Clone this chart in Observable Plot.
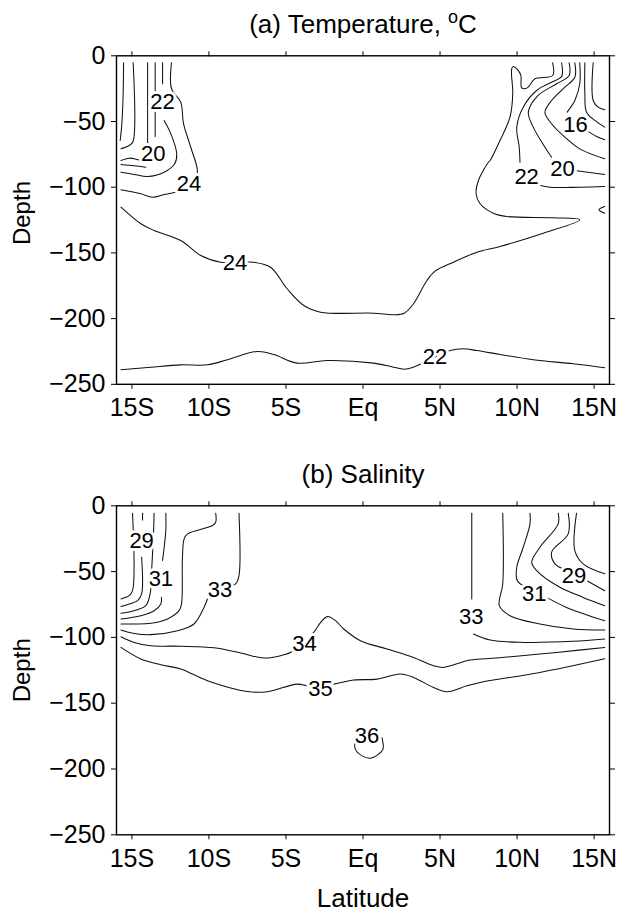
<!DOCTYPE html>
<html><head><meta charset="utf-8">
<script src="https://cdn.jsdelivr.net/npm/d3@7"></script>
<script src="https://cdn.jsdelivr.net/npm/@observablehq/plot@0.6"></script>
<style>
body{margin:0;background:#fff}
svg{display:block}
</style>
</head><body><div id="chart"></div>
<script>
// ---------- axes ----------
const latTicks = [-15, -10, -5, 0, 5, 10, 15];
const latLabels = ["15S", "10S", "5S", "Eq", "5N", "10N", "15N"];
const depthTicks = [0, -50, -100, -150, -200, -250];
const depthLabels = ["0", "\u221250", "\u2212100", "\u2212150", "\u2212200", "\u2212250"];
const titles = ["(a) Temperature, \u00b0C", "(b) Salinity"];

// ---------- (a) temperature contour lines: [lat, depth] ----------
const t14w = [[-15.54,-5.3],[-15.58,-34],[-15.67,-54.3],[-15.76,-64.5]];
const t16w = [[-14.92,-5.3],[-14.92,-65],[-15.18,-68.3],[-15.71,-70.8]];
const t18wTop = [[-13.98,-5.3],[-13.98,-68.3]];
const t18wLow = [[-14.24,-80.2],[-14.74,-78.7],[-15.18,-77.9],[-15.71,-79.7]];
const t19w = [[-15.71,-82.7],[-14.85,-83.7],[-14.09,-84.8]];
const t20w = [[-13.49,-5.3],[-13.49,-61.4]];
const t22wTop = [[-13.01,-5.3],[-13.01,-21.3]];
const t22wLow = [[-12.91,-49.2],[-12.47,-59.4],[-12.09,-74.6],[-12.22,-82.2],[-12.91,-88.6],[-13.98,-91.9],[-14.85,-90.3],[-15.71,-88.6]];
const t24w = [[-12.43,-5.3],[-12.43,-25.1],[-11.83,-35.3],[-11.65,-51.7],[-11.18,-69.6],[-10.75,-87.3],[-10.9,-97],[-11.6,-102.5],[-12.15,-103.8],[-12.91,-105.6],[-13.66,-107.6],[-14.42,-105],[-15.71,-102]];
const t24main = [[-15.71,-115.2],[-14.42,-127.8],[-13.56,-132.9],[-11.83,-140.6],[-10.53,-152.0],[-9.24,-157.1],[-7.08,-157.1],[-6.0,-160.9],[-4.92,-177.3],[-3.84,-190.0],[-2.75,-195.1],[0.69,-195.9],[1.98,-197.1],[2.68,-195.9],[3.28,-188.7],[4.15,-171.0],[4.68,-163.9],[5.87,-157.1],[7.39,-149.5],[8.89,-145.1],[11.70,-135.0],[14.07,-124.8],[12.35,-123.3],[9.33,-122.3],[8.46,-119.8],[7.60,-112.6],[7.34,-105.0],[7.49,-94.9],[8.14,-81.0],[8.25,-79.7],[8.89,-64.5],[9.54,-46.7],[9.72,-28.9],[9.65,-9.9],[9.76,-8.1],[10.23,-14.2],[10.30,-24.4],[10.66,-24.4],[11.16,-17.5],[12.31,-15.0],[12.31,-5.3]];
const t22deep = [[-15.71,-239.0],[-13.77,-237.0],[-11.83,-235.2],[-10.10,-235.2],[-8.80,-231.3],[-6.86,-225.0],[-5.79,-227.3],[-4.27,-233.9],[-2.33,-231.9],[0.69,-233.9],[1.98,-237.0],[2.68,-238.5],[3.39,-236.4],[4.04,-233.2],[5.66,-224.3],[6.52,-223.0],[7.39,-224.3],[8.89,-227.3],[11.05,-231.3],[13.64,-234.4],[15.69,-237.4]];
const t22eTop = [[12.89,-5.3],[12.89,-15.8],[12.24,-20.1],[11.27,-26.4],[10.40,-39.1],[9.98,-54.3],[10.14,-69.6],[10.19,-81.0]];
const t22eLow = [[11.27,-97.9],[12.13,-100.0],[14.07,-100.0],[15.69,-99.5]];
const t20eTop = [[13.38,-5.3],[13.38,-15.0],[12.57,-21.3],[11.37,-30.2],[10.73,-42.9],[11.05,-54.3],[11.81,-69.6],[12.24,-77.2]];
const t20eLow = [[13.75,-87.3],[15.69,-90.3]];
const t18e = [[13.75,-5.3],[13.75,-16.3],[13.10,-23.9],[12.24,-34.0],[11.81,-42.9],[12.24,-51.7],[13.10,-61.9],[14.07,-70.8],[15.69,-78.4]];
const t16eTop = [[14.07,-5.3],[14.07,-21.3],[13.75,-34.0],[13.25,-42.9]];
const t16eLow = [[14.51,-56.8],[15.16,-61.4],[15.69,-63.9]];
const t14e = [[14.40,-5.3],[14.40,-28.9],[14.51,-42.9],[15.05,-49.2],[15.69,-54.3]];
const t12e = [[14.94,-5.3],[14.94,-34.0],[15.26,-39.1],[15.69,-41.1]];
const t22eSmall = [[15.69,-114.7],[15.31,-117.2],[15.69,-119.8]];

const tempLines = [
  [14, t14w], [16, t16w], [18, t18wTop], [18, t18wLow], [19, t19w], [20, t20w],
  [22, t22wTop], [22, t22wLow], [24, t24w], [24, t24main], [22, t22deep],
  [22, t22eTop], [22, t22eLow], [20, t20eTop], [20, t20eLow], [18, t18e],
  [16, t16eTop], [16, t16eLow], [14, t14e], [12, t12e], [22, t22eSmall]
];
const tempLabelText  = ["22", "20", "24", "24", "22", "16", "20", "22"];
const tempLabelLat   = [-13.01, -13.62, -11.29, -8.31, 4.68, 13.80, 12.95, 10.62];
const tempLabelDepth = [-35.3, -74.6, -97.9, -157.5, -229.4, -52.3, -86.0, -92.4];

// ---------- (b) salinity contour lines ----------
const s28w = [[-14.96,-5.6],[-14.96,-64.5],[-15.18,-68.3],[-15.71,-70.8]];
const s29wTop = [[-14.31,-5.6],[-14.31,-10.7]];
const s29wLow = [[-14.37,-39.1],[-14.37,-67.0],[-14.63,-72.1],[-15.18,-74.6],[-15.71,-76.6]];
const s30w = [[-13.56,-5.6],[-13.60,-21.3],[-13.72,-49.2],[-13.82,-67.0],[-14.09,-75.9],[-14.63,-78.9],[-15.71,-81.7]];
const s31wTop = [[-12.80,-5.6],[-12.80,-18.8],[-13.01,-41.6]];
const s31wLow = [[-13.08,-69.6],[-13.12,-74.6],[-13.56,-79.7],[-14.42,-83.5],[-15.71,-86.0]];
const s32w = [[-9.56,-5.6],[-9.56,-12.5],[-9.77,-15.0],[-11.39,-21.3],[-11.61,-25.1],[-11.72,-39.1],[-11.78,-74.6],[-11.94,-79.7],[-12.69,-86.0],[-13.77,-89.3],[-14.85,-89.8],[-15.71,-89.8]];
const s33wTop = [[-8.05,-5.6],[-8.05,-53.0],[-8.27,-59.4],[-8.59,-60.7]];
const s33wLow = [[-10.10,-70.8],[-10.32,-77.2],[-10.97,-89.8],[-12.04,-94.9],[-13.77,-97.9],[-14.85,-97.0],[-15.71,-94.4]];
const s34 = [[-15.71,-99.5],[-14.85,-103.8],[-13.77,-106.3],[-11.83,-106.7],[-9.67,-107.9],[-7.94,-111.8],[-6.43,-115.7],[-5.35,-113.9],[-4.49,-110.1],[-3.20,-96.2],[-2.76,-88.8],[-2.31,-84.2],[-1.79,-87.3],[-1.25,-93.6],[-0.17,-102.5],[1.56,-108.8],[3.28,-115.2],[4.57,-121.5],[5.22,-122.8],[6.95,-117.2],[8.68,-115.7],[11.48,-112.6],[12.57,-111.4],[15.69,-107.6]];
const s35 = [[-15.71,-107.6],[-14.42,-116.4],[-13.12,-120.8],[-11.83,-124.0],[-10.10,-132.9],[-7.51,-141.1],[-6.21,-141.3],[-4.27,-135.5],[-3.52,-136.8],[-1.90,-135.5],[-0.61,-132.4],[0.91,-131.7],[2.42,-127.8],[3.28,-130.4],[4.57,-138.0],[5.44,-141.3],[6.74,-136.8],[7.60,-134.2],[11.48,-126.6],[15.69,-116.2]];
const s36 = [[-0.50,-176.1],[-0.50,-184.9],[-0.06,-190.0],[0.48,-191.8],[1.01,-188.7],[1.30,-184.9],[1.23,-176.1]];
const s33eTop = [[7.06,-5.6],[7.06,-70.8]];
const s33eLow = [[7.17,-97.4],[8.25,-102.0],[10.40,-103.8],[13.64,-103.0],[15.69,-101.2]];
const s32e = [[9.07,-5.6],[9.07,-59.4],[8.85,-75.9],[9.54,-83.5],[11.48,-89.8],[13.64,-93.6],[15.69,-94.4]];
const s31eTop = [[10.84,-5.6],[10.84,-13.7],[10.40,-31.5],[9.98,-46.7],[10.01,-56.8],[10.40,-60.7]];
const s31eLow = [[11.92,-69.6],[13.21,-77.2],[15.69,-87.3]];
const s30e = [[12.67,-5.6],[12.67,-13.7],[11.48,-31.5],[10.95,-42.9],[11.27,-49.2],[12.78,-61.9],[14.29,-69.6],[15.69,-75.9]];
const s29eTop = [[13.32,-5.6],[13.32,-21.3],[12.24,-35.3],[12.46,-44.1],[12.99,-47.9]];
const s29eLow = [[14.51,-56.8],[15.69,-64.5]];
const s28e = [[13.86,-5.6],[13.75,-34.0],[14.29,-44.1],[15.69,-51.7]];

const saltLines = [
  [28, s28w], [29, s29wTop], [29, s29wLow], [30, s30w], [31, s31wTop], [31, s31wLow],
  [32, s32w], [33, s33wTop], [33, s33wLow], [34, s34], [35, s35], [36, s36],
  [33, s33eTop], [33, s33eLow], [32, s32e], [31, s31eTop], [31, s31eLow],
  [30, s30e], [29, s29eTop], [29, s29eLow], [28, s28e]
];
const saltLabelText  = ["29", "31", "33", "34", "35", "36", "33", "31", "29"];
const saltLabelLat   = [-14.37, -13.12, -9.28, -3.80, -2.76, 0.26, 7.02, 11.12, 13.70];
const saltLabelDepth = [-26.4, -55.5, -63.9, -104.6, -139.3, -174.8, -84.8, -67.0, -53.0];

// ---------- build ----------
const FONT = "'Liberation Sans', Arial, Helvetica, sans-serif";
function rows(lines) {
  return lines.flatMap(([level, pts], id) => pts.map(([lat, depth]) => ({id, level, lat, depth})));
}
function labels(text, lat, depth) {
  return text.map((t, i) => ({text: t, lat: lat[i], depth: depth[i]}));
}

function panel({lines, labs, title, height, marginTop, marginBottom, depthDy, withXLabel}) {
  const marks = [
    Plot.line(rows(lines), {x: "lat", y: "depth", z: "id", stroke: "#111", strokeWidth: 1.05, curve: "catmull-rom"}),
    Plot.text(labs, {x: "lat", y: "depth", text: "text", fontSize: 22, fill: "#000", stroke: "white", strokeWidth: 6}),
    Plot.frame({stroke: "#000", strokeWidth: 1.4}),
    Plot.axisX({ticks: latTicks, anchor: "bottom", tickSize: 5, tickPadding: 9, fontSize: 25,
      tickFormat: d => latLabels[latTicks.indexOf(d)], label: null}),
    Plot.axisX({ticks: latTicks, anchor: "top", tickSize: 5, tickFormat: () => "", label: null}),
    Plot.axisY({ticks: depthTicks, anchor: "left", tickSize: 5, tickPadding: 6, fontSize: 25,
      tickFormat: d => depthLabels[depthTicks.indexOf(d)], label: null}),
    Plot.axisY({ticks: depthTicks, anchor: "right", tickSize: 5, tickFormat: () => "", label: null}),
    Plot.text([title], {frameAnchor: "top", lineAnchor: "middle", textAnchor: "middle", dy: -31, fontSize: 26, text: d => d}),
    Plot.text(["Depth"], {frameAnchor: "left", lineAnchor: "middle", textAnchor: "middle", dx: -94, dy: depthDy, rotate: -90, fontSize: 24, text: d => d})
  ];
  if (withXLabel) marks.push(Plot.text(["Latitude"], {frameAnchor: "bottom", lineAnchor: "middle", textAnchor: "middle", dy: 64, fontSize: 26, text: d => d}));
  return Plot.plot({
    width: 618, height, marginLeft: 116, marginRight: 9, marginTop, marginBottom,
    style: {fontFamily: FONT, background: "white", color: "black", overflow: "visible"},
    x: {domain: [-16, 16], axis: null},
    y: {domain: [-250, 0], axis: null},
    marks
  });
}

function superscript(svg) {
  const ns = "http://www.w3.org/2000/svg";
  svg.querySelectorAll("text").forEach(t => {
    const s = t.textContent;
    if (s.endsWith("\u00b0C") && t.children.length === 0) {
      t.textContent = s.slice(0, -2);
      const o = document.createElementNS(ns, "tspan");
      o.setAttribute("font-size", "18"); o.setAttribute("dy", "-10"); o.textContent = "o";
      const c = document.createElementNS(ns, "tspan");
      c.setAttribute("font-size", "26"); c.setAttribute("dy", "10"); c.textContent = "C";
      t.append(o, c);
    }
  });
}

const chart = document.getElementById("chart");
const svgA = panel({lines: tempLines, labs: labels(tempLabelText, tempLabelLat, tempLabelDepth),
  title: titles[0], height: 450, marginTop: 55.3, marginBottom: 66.2, depthDy: -7, withXLabel: false});
superscript(svgA);
const svgB = panel({lines: saltLines, labs: labels(saltLabelText, saltLabelLat, saltLabelDepth),
  title: titles[1], height: 466, marginTop: 55.3, marginBottom: 81.7, depthDy: 0, withXLabel: true});
chart.append(svgA, svgB);
</script>
</body></html>
